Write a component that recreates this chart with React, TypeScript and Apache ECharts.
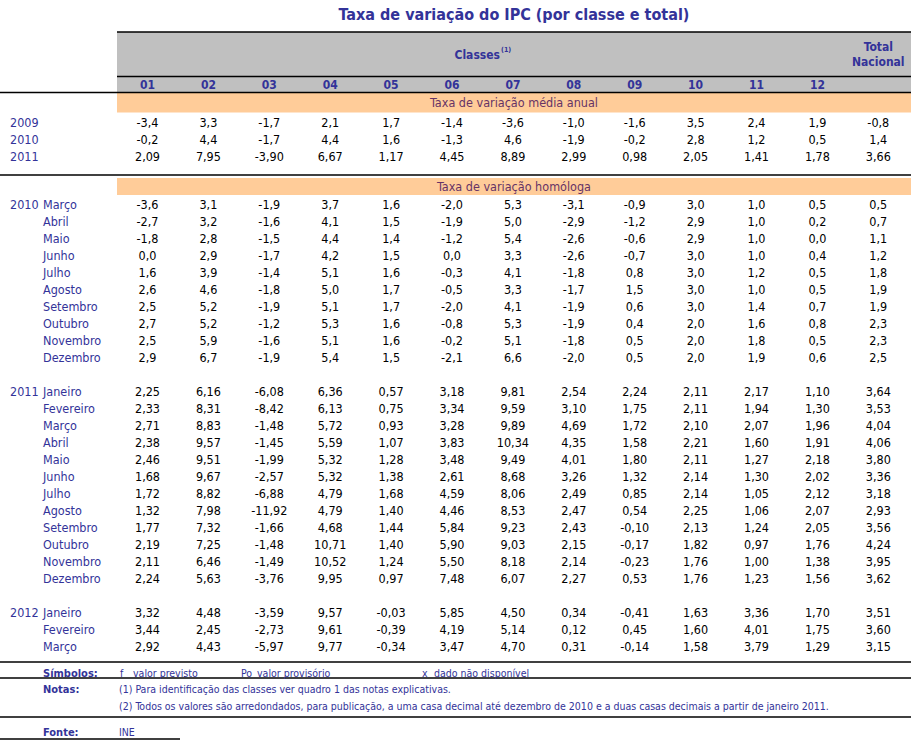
import React, { useEffect, useRef } from 'react';
import * as echarts from 'echarts';

// ---------- data ----------
const title = 'Taxa de variação do IPC (por classe e total)';
const classes = ['01', '02', '03', '04', '05', '06', '07', '08', '09', '10', '11', '12'];
const totalHeader = ['Total', 'Nacional'];
const annualBandTitle = 'Taxa de variação média anual';
const homologaBandTitle = 'Taxa de variação homóloga';

const annualYears = ['2009', '2010', '2011'];
const annualDecimals = [1, 1, 2];
const media2009 = [-3.4, 3.3, -1.7, 2.1, 1.7, -1.4, -3.6, -1.0, -1.6, 3.5, 2.4, 1.9, -0.8];
const media2010 = [-0.2, 4.4, -1.7, 4.4, 1.6, -1.3, 4.6, -1.9, -0.2, 2.8, 1.2, 0.5, 1.4];
const media2011 = [2.09, 7.95, -3.9, 6.67, 1.17, 4.45, 8.89, 2.99, 0.98, 2.05, 1.41, 1.78, 3.66];

const months2010 = ['Março', 'Abril', 'Maio', 'Junho', 'Julho', 'Agosto', 'Setembro', 'Outubro', 'Novembro', 'Dezembro'];
const homologa2010 = [
  [-3.6, 3.1, -1.9, 3.7, 1.6, -2.0, 5.3, -3.1, -0.9, 3.0, 1.0, 0.5, 0.5],
  [-2.7, 3.2, -1.6, 4.1, 1.5, -1.9, 5.0, -2.9, -1.2, 2.9, 1.0, 0.2, 0.7],
  [-1.8, 2.8, -1.5, 4.4, 1.4, -1.2, 5.4, -2.6, -0.6, 2.9, 1.0, 0.0, 1.1],
  [0.0, 2.9, -1.7, 4.2, 1.5, 0.0, 3.3, -2.6, -0.7, 3.0, 1.0, 0.4, 1.2],
  [1.6, 3.9, -1.4, 5.1, 1.6, -0.3, 4.1, -1.8, 0.8, 3.0, 1.2, 0.5, 1.8],
  [2.6, 4.6, -1.8, 5.0, 1.7, -0.5, 3.3, -1.7, 1.5, 3.0, 1.0, 0.5, 1.9],
  [2.5, 5.2, -1.9, 5.1, 1.7, -2.0, 4.1, -1.9, 0.6, 3.0, 1.4, 0.7, 1.9],
  [2.7, 5.2, -1.2, 5.3, 1.6, -0.8, 5.3, -1.9, 0.4, 2.0, 1.6, 0.8, 2.3],
  [2.5, 5.9, -1.6, 5.1, 1.6, -0.2, 5.1, -1.8, 0.5, 2.0, 1.8, 0.5, 2.3],
  [2.9, 6.7, -1.9, 5.4, 1.5, -2.1, 6.6, -2.0, 0.5, 2.0, 1.9, 0.6, 2.5],
];

const months2011 = ['Janeiro', 'Fevereiro', 'Março', 'Abril', 'Maio', 'Junho', 'Julho', 'Agosto', 'Setembro', 'Outubro', 'Novembro', 'Dezembro'];
const homologa2011 = [
  [2.25, 6.16, -6.08, 6.36, 0.57, 3.18, 9.81, 2.54, 2.24, 2.11, 2.17, 1.10, 3.64],
  [2.33, 8.31, -8.42, 6.13, 0.75, 3.34, 9.59, 3.10, 1.75, 2.11, 1.94, 1.30, 3.53],
  [2.71, 8.83, -1.48, 5.72, 0.93, 3.28, 9.89, 4.69, 1.72, 2.10, 2.07, 1.96, 4.04],
  [2.38, 9.57, -1.45, 5.59, 1.07, 3.83, 10.34, 4.35, 1.58, 2.21, 1.60, 1.91, 4.06],
  [2.46, 9.51, -1.99, 5.32, 1.28, 3.48, 9.49, 4.01, 1.80, 2.11, 1.27, 2.18, 3.80],
  [1.68, 9.67, -2.57, 5.32, 1.38, 2.61, 8.68, 3.26, 1.32, 2.14, 1.30, 2.02, 3.36],
  [1.72, 8.82, -6.88, 4.79, 1.68, 4.59, 8.06, 2.49, 0.85, 2.14, 1.05, 2.12, 3.18],
  [1.32, 7.98, -11.92, 4.79, 1.40, 4.46, 8.53, 2.47, 0.54, 2.25, 1.06, 2.07, 2.93],
  [1.77, 7.32, -1.66, 4.68, 1.44, 5.84, 9.23, 2.43, -0.10, 2.13, 1.24, 2.05, 3.56],
  [2.19, 7.25, -1.48, 10.71, 1.40, 5.90, 9.03, 2.15, -0.17, 1.82, 0.97, 1.76, 4.24],
  [2.11, 6.46, -1.49, 10.52, 1.24, 5.50, 8.18, 2.14, -0.23, 1.76, 1.00, 1.38, 3.95],
  [2.24, 5.63, -3.76, 9.95, 0.97, 7.48, 6.07, 2.27, 0.53, 1.76, 1.23, 1.56, 3.62],
];

const months2012 = ['Janeiro', 'Fevereiro', 'Março'];
const homologa2012 = [
  [3.32, 4.48, -3.59, 9.57, -0.03, 5.85, 4.50, 0.34, -0.41, 1.63, 3.36, 1.70, 3.51],
  [3.44, 2.45, -2.73, 9.61, -0.39, 4.19, 5.14, 0.12, 0.45, 1.60, 4.01, 1.75, 3.60],
  [2.92, 4.43, -5.97, 9.77, -0.34, 3.47, 4.70, 0.31, -0.14, 1.58, 3.79, 1.29, 3.15],
];

const symbols = [
  ['f', 'valor previsto'],
  ['Po', 'valor provisório'],
  ['x', 'dado não disponível'],
];
const notes = [
  '(1) Para identificação das classes ver quadro 1 das notas explicativas.',
  '(2) Todos os valores são arredondados, para publicação, a uma casa decimal até dezembro de 2010 e a duas casas decimais a partir de janeiro 2011.',
];
const source = 'INE';

// ---------- helpers ----------
const FONT = '"DejaVu Sans Condensed", "DejaVu Sans", sans-serif';
const NAVY = '#333399';
const BAND_TEXT = '#663366';
const fmt = (v: number, d: number) => v.toFixed(d).replace('.', ',');

type Row = { year: string; month: string; values: number[] | null; dec: number };

const annualRows: Row[] = [
  { year: annualYears[0], month: '', values: media2009, dec: annualDecimals[0] },
  { year: annualYears[1], month: '', values: media2010, dec: annualDecimals[1] },
  { year: annualYears[2], month: '', values: media2011, dec: annualDecimals[2] },
];

const homRows: Row[] = [];
months2010.forEach((m, i) => homRows.push({ year: i === 0 ? '2010' : '', month: m, values: homologa2010[i], dec: 1 }));
homRows.push({ year: '', month: '', values: null, dec: 1 });
months2011.forEach((m, i) => homRows.push({ year: i === 0 ? '2011' : '', month: m, values: homologa2011[i], dec: 2 }));
homRows.push({ year: '', month: '', values: null, dec: 2 });
months2012.forEach((m, i) => homRows.push({ year: i === 0 ? '2012' : '', month: m, values: homologa2012[i], dec: 2 }));

const columns = [...classes, ''];

function cellData(rows: Row[]) {
  const data: number[][] = [];
  const labels: string[] = [];
  rows.forEach((r, ri) => {
    if (!r.values) return;
    r.values.forEach((v, ci) => {
      data.push([ci, ri]);
      labels.push(fmt(v, r.dec));
    });
  });
  return { data, labels };
}

// ---------- layout ----------
const COL0 = 147.5;
const COLW = 60.9;
const GRID_LEFT = COL0 - COLW / 2;
const GRID_W = COLW * columns.length;
const ROWH = 17;

export default function App() {
  const ref = useRef<HTMLDivElement>(null);
  useEffect(() => {
    if (!ref.current) return;
    const chart = echarts.init(ref.current, null, { renderer: 'svg' });
    const a = cellData(annualRows);
    const h = cellData(homRows);

    const cellSeries = (idx: number, cd: { data: number[][]; labels: string[] }) => ({
      type: 'custom',
      xAxisIndex: idx,
      yAxisIndex: idx,
      z: 10,
      data: cd.data,
      renderItem: (params: any, api: any) => {
        const p = api.coord([api.value(0), api.value(1)]);
        return {
          type: 'text',
          x: p[0],
          y: p[1],
          style: {
            text: cd.labels[params.dataIndex],
            fill: '#000',
            fontFamily: FONT,
            fontSize: 12.5,
            align: 'center',
            verticalAlign: 'middle',
            textAlign: 'center',
            textVerticalAlign: 'middle',
          },
        };
      },
    });

    const labelSeries = (idx: number, rows: Row[]) => ({
      type: 'custom',
      xAxisIndex: idx,
      yAxisIndex: idx,
      z: 10,
      data: rows.map((_, i) => [0, i]),
      renderItem: (params: any, api: any) => {
        const r = rows[params.dataIndex];
        const y = api.coord([0, api.value(1)])[1];
        const st = (text: string) => ({
          text,
          fill: NAVY,
          fontFamily: FONT,
          fontSize: 12.5,
          align: 'left',
          verticalAlign: 'middle',
          textAlign: 'left',
          textVerticalAlign: 'middle',
        });
        return {
          type: 'group',
          children: [
            { type: 'text', x: 10, y, style: st(r.year) },
            { type: 'text', x: 43, y, style: st(r.month) },
          ],
        };
      },
    });

    const txt = (text: string, x: number, y: number, o: any = {}) => ({
      type: 'text',
      x,
      y,
      z: 5,
      style: {
        text,
        fill: o.fill || NAVY,
        fontFamily: FONT,
        fontSize: o.size || 12,
        fontWeight: o.bold ? 'bold' : 'normal',
        align: o.align || 'left',
        verticalAlign: 'middle',
        textAlign: o.align || 'left',
        textVerticalAlign: 'middle',
      },
    });
    const hline = (x1: number, x2: number, y: number) => ({
      type: 'line',
      z: 4,
      shape: { x1, y1: y, x2, y2: y },
      style: { stroke: '#000', lineWidth: 1.4 },
    });
    const rect = (x: number, y: number, w: number, hh: number, fill: string) => ({
      type: 'rect',
      z: 1,
      shape: { x, y, width: w, height: hh },
      style: { fill },
    });

    const totalX = COL0 + COLW * 12;
    const bandCenter = (117 + 911) / 2;

    const graphic: any[] = [
      rect(117, 32, 794, 61, '#c0c0c0'),
      rect(117, 93, 794, 19.5, '#ffcc99'),
      rect(117, 178, 794, 17, '#ffcc99'),
      hline(117, 911, 32),
      hline(117, 76.5, 76.5) && hline(117, 911, 76.5),
      hline(0, 911, 92.5),
      hline(0, 911, 175),
      hline(0, 911, 662),
      hline(0, 911, 678),
      hline(0, 911, 717),
      hline(0, 180, 739),
      txt(title, 514, 14, { bold: true, size: 16, align: 'center' }),
      txt('Classes', 500, 55, { bold: true, size: 12, align: 'right' }),
      txt('(1)', 501, 50, { bold: true, size: 7, align: 'left' }),
      txt(totalHeader[0], totalX, 47, { bold: true, size: 12, align: 'center' }),
      txt(totalHeader[1], totalX, 62, { bold: true, size: 12, align: 'center' }),
      txt(annualBandTitle, bandCenter, 102.5, { size: 12.5, align: 'center', fill: BAND_TEXT }),
      txt(homologaBandTitle, bandCenter, 186.5, { size: 12.5, align: 'center', fill: BAND_TEXT }),
      txt('Símbolos:', 43, 673, { bold: true, size: 11 }),
      txt('Notas:', 43, 689, { bold: true, size: 11 }),
      txt('Fonte:', 43, 732, { bold: true, size: 11 }),
      txt(notes[0], 119, 689, { size: 10.5 }),
      txt(notes[1], 119, 706, { size: 10.5 }),
      txt(source, 119, 732, { size: 10.5 }),
    ];
    const symX = [[120, 133], [241, 257], [422, 434]];
    symbols.forEach((s, i) => {
      graphic.push(txt(s[0], symX[i][0], 673, { size: 10.5 }));
      graphic.push(txt(s[1], symX[i][1], 673, { size: 10.5 }));
    });

    chart.setOption({
      animation: false,
      backgroundColor: '#fff',
      grid: [
        { left: GRID_LEFT, top: 113.5, width: GRID_W, height: ROWH * annualRows.length },
        { left: GRID_LEFT, top: 195.5, width: GRID_W, height: ROWH * homRows.length },
      ],
      xAxis: [
        {
          type: 'category',
          gridIndex: 0,
          data: columns,
          position: 'top',
          z: 10,
          axisLine: { show: false },
          axisTick: { show: false },
          splitLine: { show: false },
          axisLabel: {
            interval: 0,
            margin: 28.5,
            verticalAlign: 'middle',
            color: NAVY,
            fontWeight: 'bold',
            fontFamily: FONT,
            fontSize: 12,
          },
        },
        { type: 'category', gridIndex: 1, data: columns, show: false },
      ],
      yAxis: [
        { type: 'category', gridIndex: 0, data: annualRows.map((r) => r.year), inverse: true, show: false },
        { type: 'category', gridIndex: 1, data: homRows.map((r, i) => r.year + r.month + '#' + i), inverse: true, show: false },
      ],
      graphic: { elements: graphic },
      series: [
        cellSeries(0, a),
        labelSeries(0, annualRows),
        cellSeries(1, h),
        labelSeries(1, homRows),
      ],
    });
    return () => chart.dispose();
  }, []);
  return <div ref={ref} style={{ position: 'absolute', left: 0, top: 0, width: 911, height: 748, background: '#fff' }} />;
}
